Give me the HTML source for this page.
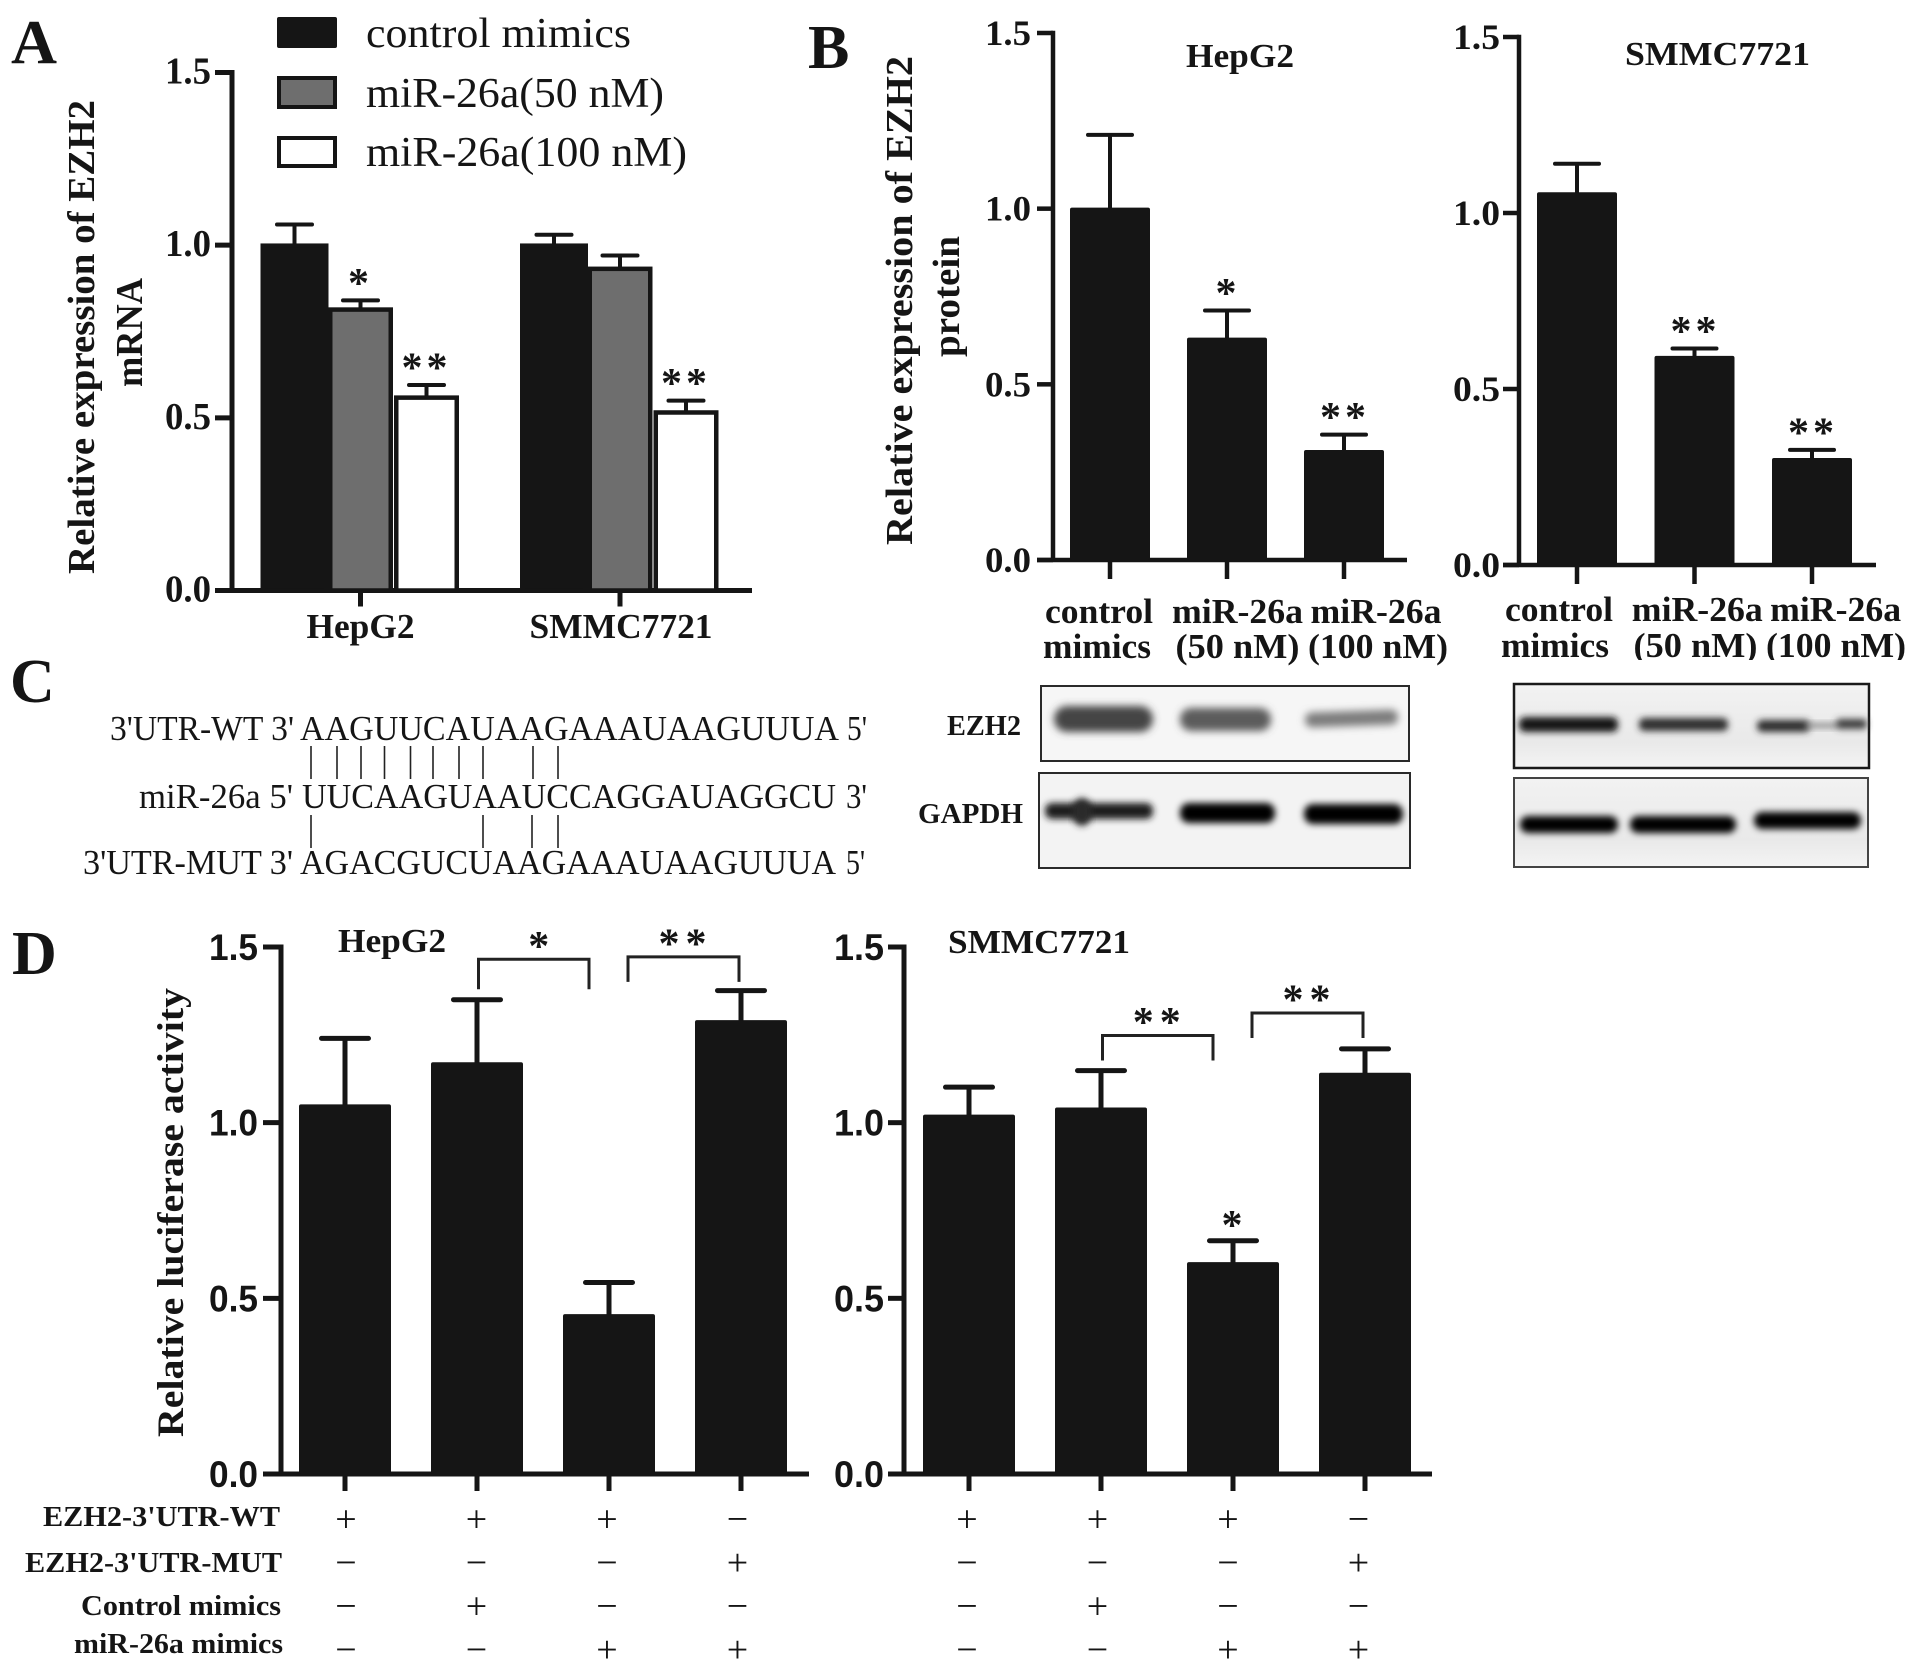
<!DOCTYPE html>
<html lang="en">
<head>
<meta charset="utf-8">
<title>miR-26a EZH2 figure</title>
<style>
html,body{margin:0;padding:0;background:#fff;}
svg{display:block;}
text{font-family:"Liberation Serif",serif;fill:#151515;}
.b{font-weight:bold;}
.sans{font-family:"Liberation Sans",sans-serif;font-weight:bold;}
</style>
</head>
<body>
<svg id="figure" xmlns="http://www.w3.org/2000/svg" width="1913" height="1676" viewBox="0 0 1913 1676">
<defs>
<filter id="blur4" x="-20%" y="-80%" width="140%" height="260%"><feGaussianBlur stdDeviation="4"/></filter>
<filter id="blur3" x="-20%" y="-80%" width="140%" height="260%"><feGaussianBlur stdDeviation="3.5"/></filter>
<linearGradient id="blotShade" x1="0" y1="0" x2="0" y2="1"><stop offset="0" stop-color="#f2f2f2"/><stop offset="0.7" stop-color="#e9e9e9"/><stop offset="1" stop-color="#f4f4f4"/></linearGradient>
</defs>
<rect width="1913" height="1676" fill="#fff"/>

<g>
<text class="b" x="11" y="63" font-size="62" textLength="46" lengthAdjust="spacingAndGlyphs">A</text>
<text class="b" x="808" y="68" font-size="62">B</text>
<text class="b" x="10" y="702" font-size="62">C</text>
<text class="b" x="12" y="974" font-size="62">D</text>
</g>

<g>
<rect x="277" y="17" width="60" height="31" rx="2" fill="#151515"/>
<rect x="279" y="78" width="56" height="29" fill="#6e6e6e" stroke="#151515" stroke-width="4"/>
<rect x="279" y="138" width="56" height="28" fill="#fff" stroke="#151515" stroke-width="4"/>
<text x="366" y="47" font-size="42" textLength="265" lengthAdjust="spacingAndGlyphs">control mimics</text>
<text x="366" y="107" font-size="42" textLength="298" lengthAdjust="spacingAndGlyphs">miR-26a(50 nM)</text>
<text x="366" y="166" font-size="42" textLength="321" lengthAdjust="spacingAndGlyphs">miR-26a(100 nM)</text>
</g>

<text class="b" transform="translate(94,574) rotate(-90)" font-size="38" textLength="474" lengthAdjust="spacingAndGlyphs">Relative expression of EZH2</text>
<text class="b" transform="translate(142,387) rotate(-90)" font-size="38" textLength="109" lengthAdjust="spacingAndGlyphs">mRNA</text>

<text class="b" transform="translate(912,545) rotate(-90)" font-size="38" textLength="489" lengthAdjust="spacingAndGlyphs">Relative expression of EZH2</text>
<text class="b" transform="translate(959,357) rotate(-90)" font-size="38" textLength="121" lengthAdjust="spacingAndGlyphs">protein</text>
<text class="b" x="1186" y="67" font-size="34" textLength="108" lengthAdjust="spacingAndGlyphs">HepG2</text>
<text class="b" x="1625" y="65" font-size="34" textLength="185" lengthAdjust="spacingAndGlyphs">SMMC7721</text>

<g>
<text x="110" y="740" font-size="35" textLength="184" lengthAdjust="spacingAndGlyphs">3'UTR-WT 3'</text>
<text x="300" y="740" font-size="35" textLength="539" lengthAdjust="spacingAndGlyphs">AAGUUCAUAAGAAAUAAGUUUA</text>
<text x="847" y="740" font-size="35" textLength="20" lengthAdjust="spacingAndGlyphs">5'</text>
<text x="139" y="808" font-size="35" textLength="154" lengthAdjust="spacingAndGlyphs">miR-26a 5'</text>
<text x="302" y="808" font-size="35" textLength="534" lengthAdjust="spacingAndGlyphs">UUCAAGUAAUCCAGGAUAGGCU</text>
<text x="846" y="808" font-size="35" textLength="21" lengthAdjust="spacingAndGlyphs">3'</text>
<text x="83" y="874" font-size="35" textLength="210" lengthAdjust="spacingAndGlyphs">3'UTR-MUT 3'</text>
<text x="300" y="874" font-size="35" textLength="536" lengthAdjust="spacingAndGlyphs">AGACGUCUAAGAAAUAAGUUUA</text>
<text x="846" y="874" font-size="35" textLength="19" lengthAdjust="spacingAndGlyphs">5'</text>
<path stroke="#222" stroke-width="1.6" fill="none" d="M311 746V779M337 746V779M361 746V779M384.500 746V779M410.500 746V779M433 746V779M459 746V779M483 746V779M533 746V779M558 746V779"/>
<path stroke="#222" stroke-width="1.6" fill="none" d="M311 815V848M483 815V848M532 815V848M558 815V848"/>
</g>

<g>
<text class="b" x="947" y="735" font-size="29" textLength="74" lengthAdjust="spacingAndGlyphs">EZH2</text>
<text class="b" x="918" y="823" font-size="29" textLength="105" lengthAdjust="spacingAndGlyphs">GAPDH</text>

<g>
<rect x="1041" y="686" width="368" height="75" fill="#f6f6f6" stroke="#2a2a2a" stroke-width="2"/>
<rect x="1054" y="706" width="99" height="26" rx="13" fill="#444" filter="url(#blur4)"/>
<rect x="1180" y="708" width="91" height="23" rx="11" fill="#5c5c5c" filter="url(#blur4)"/>
<rect x="1305" y="711" width="93" height="15" rx="7" fill="#7c7c7c" filter="url(#blur4)" transform="rotate(-2 1352 718)"/>
</g>
<g>
<rect x="1039" y="773" width="371" height="95" fill="#f3f3f3" stroke="#2a2a2a" stroke-width="2"/>
<rect x="1045" y="803" width="108" height="16" rx="7" fill="#1f1f1f" filter="url(#blur3)"/>
<ellipse cx="1082" cy="812" rx="10" ry="14" fill="#2a2a2a" filter="url(#blur3)"/>
<rect x="1180" y="803" width="95" height="20" rx="9" fill="#060606" filter="url(#blur3)"/>
<rect x="1304" y="804" width="99" height="20" rx="9" fill="#060606" filter="url(#blur3)"/>
</g>
<g>
<rect x="1514" y="684" width="355" height="84" fill="url(#blotShade)" stroke="#1a1a1a" stroke-width="2.500"/>
<rect x="1519" y="717" width="99" height="15" rx="6" fill="#161616" filter="url(#blur3)"/>
<rect x="1639" y="718" width="89" height="13" rx="5" fill="#2e2e2e" filter="url(#blur3)"/>
<rect x="1757" y="720" width="53" height="12" rx="5" fill="#2e2e2e" filter="url(#blur3)"/>
<rect x="1806" y="723" width="32" height="5" fill="#8a8a8a" filter="url(#blur3)"/>
<rect x="1836" y="719" width="31" height="10" rx="4" fill="#3c3c3c" filter="url(#blur3)"/>
</g>
<g>
<rect x="1514" y="778" width="354" height="89" fill="url(#blotShade)" stroke="#444" stroke-width="2"/>
<rect x="1520" y="816" width="98" height="17" rx="8" fill="#060606" filter="url(#blur3)"/>
<rect x="1630" y="816" width="106" height="17" rx="8" fill="#060606" filter="url(#blur3)"/>
<rect x="1754" y="812" width="107" height="17" rx="8" fill="#060606" filter="url(#blur3)"/>
</g>
</g>

<text class="b" transform="translate(183,1437) rotate(-90)" font-size="37" textLength="449" lengthAdjust="spacingAndGlyphs">Relative luciferase activity</text>
<text class="b" x="338" y="952" font-size="34" textLength="108" lengthAdjust="spacingAndGlyphs">HepG2</text>
<text class="b" x="948" y="953" font-size="34" textLength="182" lengthAdjust="spacingAndGlyphs">SMMC7721</text>
<text class="b" x="43" y="1526" font-size="29" textLength="237" lengthAdjust="spacingAndGlyphs">EZH2-3'UTR-WT</text>
<text class="b" x="25" y="1572" font-size="29" textLength="257" lengthAdjust="spacingAndGlyphs">EZH2-3'UTR-MUT</text>
<text class="b" x="81" y="1615" font-size="29" textLength="200" lengthAdjust="spacingAndGlyphs">Control mimics</text>
<text class="b" x="74" y="1653" font-size="29" textLength="209" lengthAdjust="spacingAndGlyphs">miR-26a mimics</text>
</svg>

<script>
// ---- shared axis data ----
const tickValues = [0, 0.5, 1.0, 1.5];
const tickLabels = ['0.0', '0.5', '1.0', '1.5'];

// ---- panel A ----
const panelACategories = ['HepG2', 'SMMC7721'];
const panelAControl = [1.005, 1.005];
const panelAControlErr = [0.055, 0.025];
const panelA50nM = [0.82, 0.938];
const panelA50nMErr = [0.02, 0.032];
const panelA100nM = [0.565, 0.522];
const panelA100nMErr = [0.03, 0.028];
const panelA50nMStars = ['*', ''];
const panelA100nMStars = ['**', '**'];

// ---- panel B ----
const panelBCategoriesTop = ['control', 'miR-26a', 'miR-26a'];
const panelBCategoriesBottom = ['mimics', '(50 nM)', '(100 nM)'];
const panelBHepG2 = [1.003, 0.633, 0.313];
const panelBHepG2Err = [0.207, 0.077, 0.044];
const panelBHepG2Stars = ['', '*', '**'];
const panelBSmmc = [1.059, 0.594, 0.304];
const panelBSmmcErr = [0.081, 0.021, 0.023];
const panelBSmmcStars = ['', '**', '**'];

// ---- panel D ----
const panelDHepG2 = [1.052, 1.172, 0.455, 1.292];
const panelDHepG2Err = [0.188, 0.178, 0.09, 0.084];
const panelDHepG2Stars = ['', '', '', ''];
const panelDSmmc = [1.023, 1.043, 0.603, 1.142];
const panelDSmmcErr = [0.078, 0.105, 0.061, 0.068];
const panelDSmmcStars = ['', '', '*', ''];
const treatmentWT = ['+', '+', '+', '\u2212'];
const treatmentMUT = ['\u2212', '\u2212', '\u2212', '+'];
const treatmentControl = ['\u2212', '+', '\u2212', '\u2212'];
const treatmentMir = ['\u2212', '\u2212', '+', '+'];
// significance brackets: bar index from/to, level on the y axis, label
const hepg2BracketFrom = [1, 3];
const hepg2BracketTo = [2, 3];
const hepg2BracketLevels = [1.465, 1.472];
const hepg2BracketStars = ['*', '**'];
const smmcBracketFrom = [1, 3];
const smmcBracketTo = [2, 3];
const smmcBracketLevels = [1.248, 1.312];
const smmcBracketStars = ['**', '**'];

const svg = document.getElementById('figure');
const NS = 'http://www.w3.org/2000/svg';
const INK = '#151515';

function add(parent, tag, attrs, text) {
  const node = document.createElementNS(NS, tag);
  for (const k in attrs) node.setAttribute(k, attrs[k]);
  if (text !== undefined) node.textContent = text;
  parent.appendChild(node);
  return node;
}

function makeGroup(name) {
  const g = add(svg, 'g', {});
  
  
  return g;
}

function makeY(y0, y15) {
  return v => y0 - v / 1.5 * (y0 - y15);
}

function drawAxes(g, o) {
  const y = o.y;
  const yAxis = add(g, 'line', {x1: o.axisX, x2: o.axisX, y1: y(1.5) - o.sw / 2, y2: y(0), stroke: INK, 'stroke-width': o.sw});
  
  
  const xAxis = add(g, 'line', {x1: o.tickLeft, x2: o.axisRight, y1: y(0), y2: y(0), stroke: INK, 'stroke-width': o.sw});
  
  
  tickValues.forEach((v, i) => {
    const t = add(g, 'line', {x1: o.tickLeft, x2: o.axisX, y1: y(v), y2: y(v), stroke: INK, 'stroke-width': o.sw});
    
    
    const attrs = {x: o.labelEnd, y: y(v) + o.labelDy, 'text-anchor': 'end', 'font-size': o.labelSize, textLength: o.labelWidth, lengthAdjust: 'spacingAndGlyphs'};
    attrs['class'] = o.labelClass;
    const l = add(g, 'text', attrs, tickLabels[i]);
    
    
  });
}

function drawXTick(g, x, y0, bottom, sw) {
  const t = add(g, 'line', {x1: x, x2: x, y1: y0, y2: bottom, stroke: INK, 'stroke-width': sw});
  
  
}

function drawError(g, cx, y, value, err, capW, sw) {
  const path = 'M' + cx + ' ' + y(value) + 'V' + y(value + err) + 'M' + (cx - capW / 2) + ' ' + y(value + err) + 'H' + (cx + capW / 2);
  const e = add(g, 'path', {d: path, stroke: INK, 'stroke-width': sw, fill: 'none', 'stroke-linecap': 'round'});
  
  
}

function drawSolidBar(g, cx, w, y, value) {
  const b = add(g, 'rect', {x: cx - w / 2, y: y(value), width: w, height: y(0) - y(value), rx: 2, fill: INK});
  
  
}

function drawOutlineBar(g, cx, w, y, value, fill, name) {
  const b = add(g, 'rect', {x: cx - w / 2 + 2.25, y: y(value) + 2.25, width: w - 4.5, height: y(0) - y(value) - 2.25, fill: fill, stroke: INK, 'stroke-width': 4.5});
  
  
}

function drawStars(g, cx, cy, stars, spacing) {
  if (!stars) return;
  const gap = stars.length > 1 ? spacing - 21 : 0;
  const attrs = {x: cx + gap / 2, y: cy + 18.5, 'text-anchor': 'middle', 'font-size': 42, 'letter-spacing': gap};
  attrs['class'] = 'b';
  const s = add(g, 'text', attrs, stars);
  
  
}

function drawCategory(g, text, x, y, size, width) {
  const attrs = {x: x, y: y, 'text-anchor': 'middle', 'font-size': size, textLength: width, lengthAdjust: 'spacingAndGlyphs'};
  attrs['class'] = 'b';
  const c = add(g, 'text', attrs, text);
  
  
}

function drawSimplePanel(name, cfg, values, errs, stars) {
  const g = makeGroup(name);
  const y = cfg.y;
  drawAxes(g, cfg);
  values.forEach((v, i) => {
    const cx = cfg.firstX + i * cfg.step;
    drawError(g, cx, y, v, errs[i], cfg.capW, cfg.errSw);
    drawSolidBar(g, cx, cfg.barW, y, v);
    drawXTick(g, cx, y(0), y(0) + cfg.tickLen, cfg.sw);
    drawStars(g, cx - 1, y(v + errs[i]) - cfg.starGap, stars[i], cfg.starSpacing);
  });
  return g;
}

// ---- panel A drawing ----
(function () {
  const g = makeGroup('panel-a-chart');
  const y = makeY(590.5, 72.5);
  drawAxes(g, {y: y, axisX: 232, tickLeft: 215, axisRight: 752, sw: 5, labelEnd: 211, labelDy: 11, labelSize: 38, labelWidth: 46, labelClass: 'b'});
  const groupX = i => 360.5 + i * 259.5;
  const seriesOffset = s => (s - 1) * 66;
  const seriesVals = [panelAControl, panelA50nM, panelA100nM];
  const seriesErrs = [panelAControlErr, panelA50nMErr, panelA100nMErr];
  const seriesFill = [INK, '#6e6e6e', '#fff'];
  const seriesNames = ['bar-control-mimics', 'bar-mir-26a-50nm', 'bar-mir-26a-100nm'];
  const seriesStars = [['', ''], panelA50nMStars, panelA100nMStars];
  const categoryWidths = i => 108 + i * 75;
  panelACategories.forEach((cat, i) => {
    seriesVals.forEach((vals, s) => {
      const cx = groupX(i) + seriesOffset(s);
      drawError(g, cx, y, vals[i], seriesErrs[s][i], 35, 4);
      drawOutlineBar(g, cx, s === 0 ? 68 : 65, y, vals[i], seriesFill[s], seriesNames[s]);
      drawStars(g, cx - 2, y(vals[i] + seriesErrs[s][i]) - 22, seriesStars[s][i], 25);
    });
    drawXTick(g, groupX(i), y(0), y(0) + 16, 5);
    drawCategory(g, cat, groupX(i) + (i === 0 ? 0 : 1), 638, 35, categoryWidths(i));
  });
})();

// ---- panel B drawing ----
const hepg2B = {y: makeY(560, 33), axisX: 1053, tickLeft: 1037, axisRight: 1407, sw: 4.5, labelEnd: 1031, labelDy: 12, labelSize: 36, labelWidth: 46, labelClass: 'b', firstX: 1110, step: 117, barW: 80, capW: 44, errSw: 4, tickLen: 19, starGap: 22, starSpacing: 25};
const hepg2BGroup = drawSimplePanel('panel-b-hepg2-chart', hepg2B, panelBHepG2, panelBHepG2Err, panelBHepG2Stars);
const smmcB = {y: makeY(565, 37), axisX: 1519, tickLeft: 1503, axisRight: 1876, sw: 4.5, labelEnd: 1500, labelDy: 12, labelSize: 36, labelWidth: 47, labelClass: 'b', firstX: 1577, step: 117.5, barW: 80, capW: 44, errSw: 4, tickLen: 19, starGap: 22, starSpacing: 25};
const smmcBGroup = drawSimplePanel('panel-b-smmc-chart', smmcB, panelBSmmc, panelBSmmcErr, panelBSmmcStars);

(function () {
  const wTop = i => (i === 0 ? 108 : 131);
  const wBot = i => 108 + i * 16;
  panelBCategoriesTop.forEach((c, i) => {
    drawCategory(hepg2BGroup, c, 1099 + i * 138.5, 623, 35, wTop(i));
    drawCategory(smmcBGroup, c, 1559 + i * 138.3, 621, 35, wTop(i));
  });
  panelBCategoriesBottom.forEach((c, i) => {
    drawCategory(hepg2BGroup, c, 1097 + i * 140.5, 658, 35, wBot(i));
    drawCategory(smmcBGroup, c, 1555 + i * 140.5, 657, 35, wBot(i));
  });
  const mask = add(smmcBGroup, 'rect', {x: 1630, y: 660, width: 283, height: 10, fill: '#fff'});
  
  
})();

// ---- panel D drawing ----
const hepg2D = {y: makeY(1474, 947), axisX: 281, tickLeft: 263, axisRight: 809, sw: 5, labelEnd: 258, labelDy: 13, labelSize: 37, labelWidth: 49, labelClass: 'sans', firstX: 345, step: 132, barW: 92, capW: 47, errSw: 5, tickLen: 17, starGap: 20, starSpacing: 27};
const hepg2DGroup = drawSimplePanel('panel-d-hepg2-chart', hepg2D, panelDHepG2, panelDHepG2Err, panelDHepG2Stars);
const smmcD = {y: makeY(1474, 947), axisX: 904, tickLeft: 888, axisRight: 1432, sw: 5, labelEnd: 884, labelDy: 13, labelSize: 37, labelWidth: 50, labelClass: 'sans', firstX: 969, step: 132, barW: 92, capW: 47, errSw: 5, tickLen: 17, starGap: 20, starSpacing: 27};
const smmcDGroup = drawSimplePanel('panel-d-smmc-chart', smmcD, panelDSmmc, panelDSmmcErr, panelDSmmcStars);

function drawBrackets(g, cfg, from, to, levels, stars, depthOf) {
  levels.forEach((lv, i) => {
    const xA = cfg.firstX + from[i] * cfg.step + (from[i] === to[i] ? -cfg.step + 19 : 1.5);
    const xB = cfg.firstX + to[i] * cfg.step - (from[i] === to[i] ? 2 : 20);
    const top = cfg.y(lv);
    const depth = depthOf(i);
    const path = 'M' + xA + ' ' + (top + depth) + 'V' + top + 'H' + xB + 'V' + (top + depth);
    const b = add(g, 'path', {d: path, fill: 'none', stroke: '#222', 'stroke-width': 3});
    
    
    drawStars(g, (xA + xB) / 2 + (stars[i].length > 1 ? -1 : 5), top - 18, stars[i], 27);
  });
}
drawBrackets(hepg2DGroup, hepg2D, hepg2BracketFrom, hepg2BracketTo, hepg2BracketLevels, hepg2BracketStars, i => (i === 0 ? 30 : 25));
drawBrackets(smmcDGroup, smmcD, smmcBracketFrom, smmcBracketTo, smmcBracketLevels, smmcBracketStars, i => 25);

function drawTreatment(g, firstX, step) {
  const rows = [treatmentWT, treatmentMUT, treatmentControl, treatmentMir];
  const rowY = r => 1519 + r * 43.5;
  rows.forEach((row, r) => {
    row.forEach((sym, c) => {
      const m = add(g, 'text', {x: firstX + c * step, y: rowY(r) + 12.5, 'text-anchor': 'middle', 'font-size': 38}, sym);
      
      
    });
  });
}
drawTreatment(hepg2DGroup, 346, 130.5);
drawTreatment(smmcDGroup, 967, 130.5);
</script>
</body>
</html>
